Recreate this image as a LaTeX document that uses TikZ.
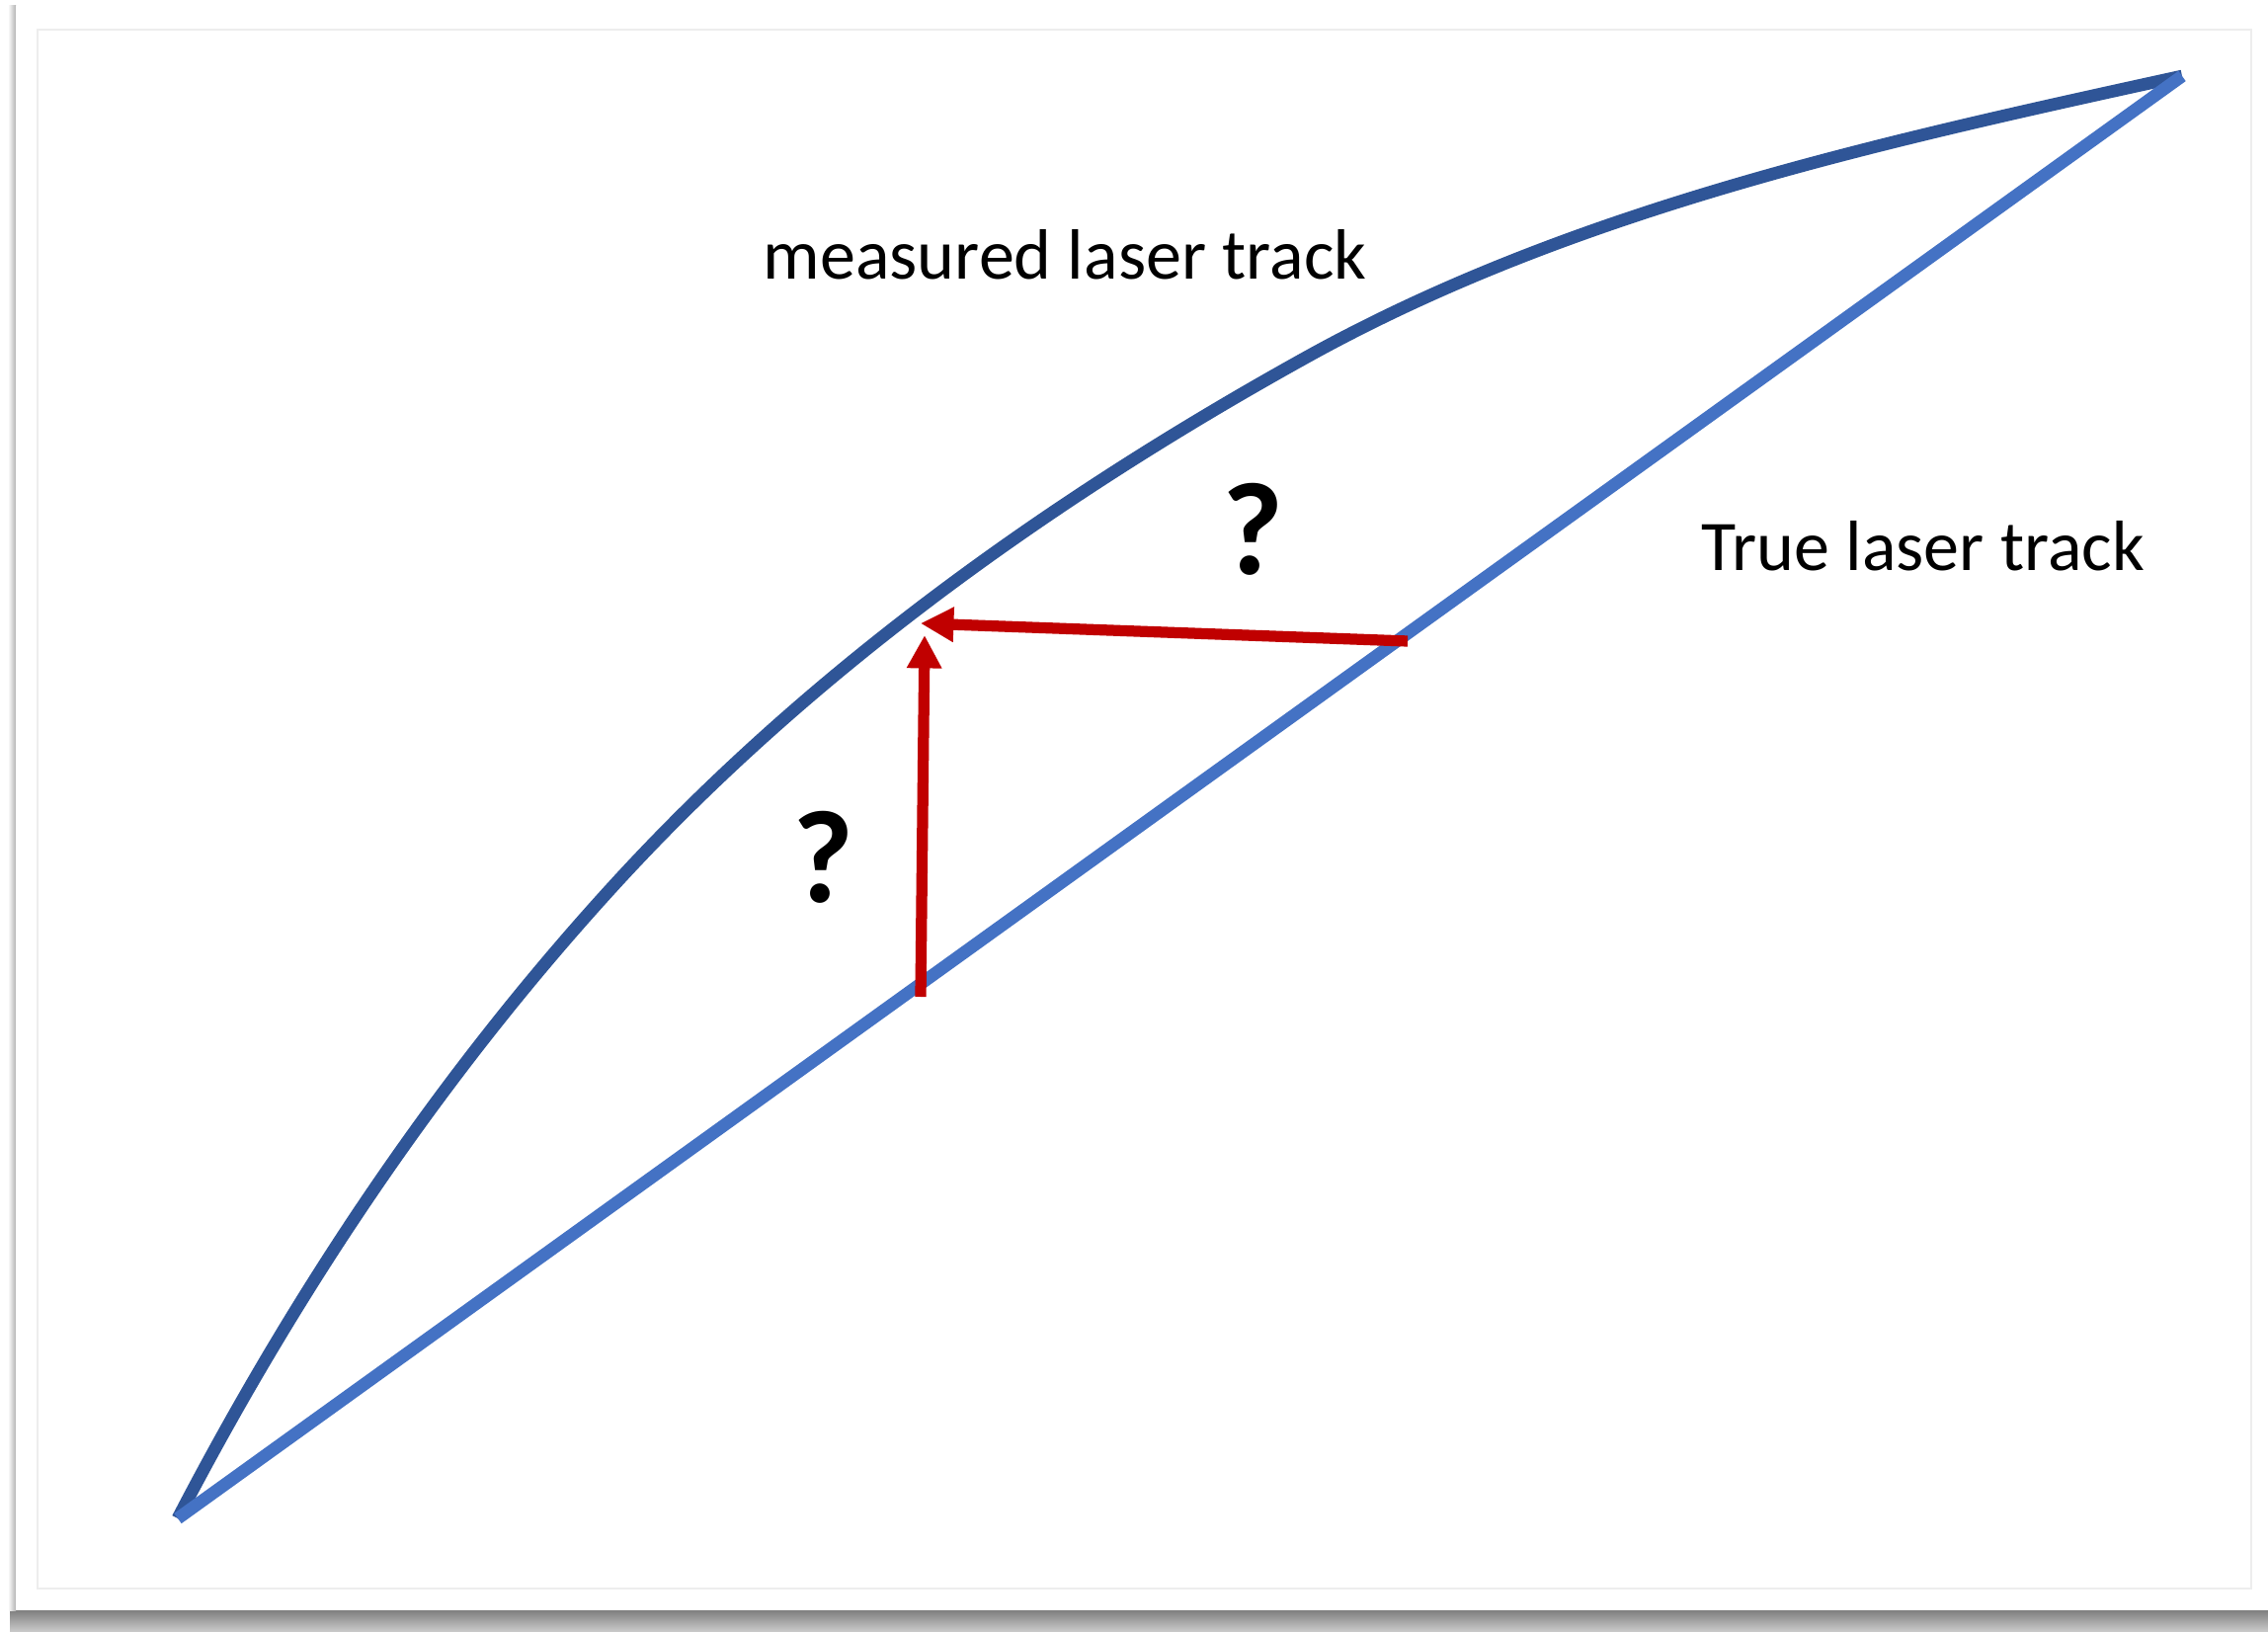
\documentclass[tikz,border=0pt]{standalone}
\usepackage{fontspec}
\setmainfont{Carlito}
\usetikzlibrary{arrows.meta}
\definecolor{MeasBlue}{HTML}{2F5597}
\definecolor{TrueBlue}{HTML}{4472C4}
\definecolor{ErrRed}{HTML}{C00000}

\begin{document}
\begin{tikzpicture}[
    x=0.01cm, y=-0.01cm,
    track/.style={line width=3.6pt},
    errarrow/.style={ErrRed, line width=3.2pt, -{Triangle[length=9.5pt, width=9.5pt]}},
    tracktext/.style={font=\fontsize{20.5}{24}\selectfont, inner sep=0pt, anchor=base west},
    query/.style={font=\fontsize{38}{40}\selectfont\bfseries, inner sep=0pt}
]
\useasboundingbox (0,0) rectangle (2296,1652);
\fill[white] (0,0) rectangle (2296,1652);
\shade[top color=black!50, bottom color=black!20] (10,1630) rectangle (2296,1652);
\shade[left color=white, right color=black!30] (8,6) rectangle (16,1630);
\fill[white] (16,6) rectangle (2296,1630);
\draw[black!7, line width=0.6pt] (38,30) rectangle (2279,1608);

\coordinate (start) at (180,1537);
\coordinate (end) at (2209,77);
\coordinate (k1) at (618,900);
\coordinate (k2) at (1329,358);
\coordinate (vfoot) at (932,1009);
\coordinate (vtip) at (936,643);
\coordinate (hfoot) at (1425,649);
\coordinate (htip) at (932,631);

\draw[track, MeasBlue] (start) .. controls (299,1308) and (444,1091) .. (k1)
    .. controls (819,679) and (1068,502) .. (k2)
    .. controls (1599,210) and (1908,143) .. (end);
\draw[track, TrueBlue] (start) -- (end);

\draw[errarrow] (vfoot) -- (vtip);
\draw[errarrow] (hfoot) -- (htip);

\node[tracktext] (meas) at (772,283) {measured laser track};
\node[tracktext] (true) at (1722,578) {True laser track};
\node[query] (q1) at (1268,536) {?};
\node[query] (q2) at (833,868) {?};
\end{tikzpicture}
\end{document}
